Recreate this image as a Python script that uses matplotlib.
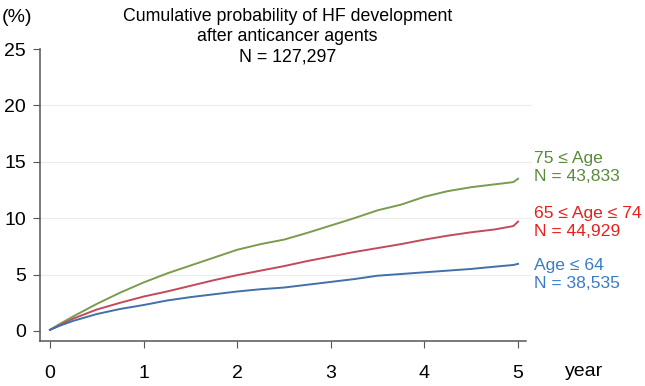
import numpy as np
import matplotlib
matplotlib.use("Agg")
import matplotlib.pyplot as plt

plt.rcParams["font.family"] = ["Liberation Sans", "DejaVu Sans"]

# follow-up time (years) and cumulative incidence (%)
years = [0, 0.1, 0.25, 0.5, 0.75, 1, 1.25, 1.5, 1.75, 2, 2.25, 2.5, 2.75,
         3, 3.25, 3.5, 3.75, 4, 4.25, 4.5, 4.75, 4.95, 5]
age_75_plus = [0.1, 0.6, 1.3, 2.4, 3.4, 4.3, 5.1, 5.8, 6.5, 7.2, 7.7, 8.1, 8.7,
               9.35, 10.0, 10.7, 11.2, 11.9, 12.4, 12.75, 13.0, 13.2, 13.5]
age_65_74 = [0.1, 0.5, 1.1, 1.9, 2.5, 3.05, 3.5, 4.0, 4.5, 4.95, 5.35, 5.75, 6.2,
             6.6, 7.0, 7.35, 7.7, 8.1, 8.45, 8.75, 9.0, 9.3, 9.7]
age_64_under = [0.1, 0.45, 0.9, 1.5, 1.95, 2.3, 2.7, 3.0, 3.25, 3.5, 3.7, 3.85, 4.1,
                4.35, 4.6, 4.9, 5.05, 5.2, 5.35, 5.5, 5.7, 5.85, 5.95]

labels = ["75 \u2264 Age\nN = 43,833",
          "65 \u2264 Age \u2264 74\nN = 44,929",
          "Age \u2264 64\nN = 38,535"]
label_y = [14.45, 9.6, 5.0]
line_colors = ["#7a9c4e", "#c24a5a", "#4170aa"]
text_colors = ["#5b8a3c", "#e8201c", "#3a7bc8"]

fig = plt.figure(figsize=(6.45, 3.86), dpi=100)
ax = fig.add_axes([0.062, 0.1166, 0.7535, 0.7564])

for series, col in zip([age_75_plus, age_65_74, age_64_under], line_colors):
    ax.plot(years, series, color=col, lw=1.4)

for lab, ly, col in zip(labels, label_y, text_colors):
    ax.text(5.17, ly, lab, color=col, fontsize=12.6, ha="left", va="center",
            linespacing=1.25, clip_on=False)

ax.set_xlim(-0.107, 5.085)
ax.set_ylim(-0.89, 25)
ax.set_xticks(range(6))
ax.set_yticks([0, 5, 10, 15, 20, 25])
ax.tick_params(axis="both", labelsize=14, length=5, color="#555555")
ax.tick_params(axis="x", pad=12)
ax.tick_params(axis="y", pad=5)

for y in [5, 10, 15, 20]:
    ax.axhline(y, xmax=1.01, color="#eeeeee", lw=0.9, zorder=0, clip_on=False)

for s in ["top", "right"]:
    ax.spines[s].set_visible(False)
for s in ["left", "bottom"]:
    ax.spines[s].set_color("#555555")
    ax.spines[s].set_linewidth(1.1)

fig.text(0.446, 0.98, "Cumulative probability of HF development\n"
         "after anticancer agents\nN = 127,297",
         ha="center", va="top", fontsize=12.8, linespacing=1.28)
fig.text(0.003, 0.955, "(%)", ha="left", va="center", fontsize=14)
fig.text(0.876, 0.037, "year", ha="left", va="center", fontsize=14)

fig.savefig("out.png", dpi=100)
